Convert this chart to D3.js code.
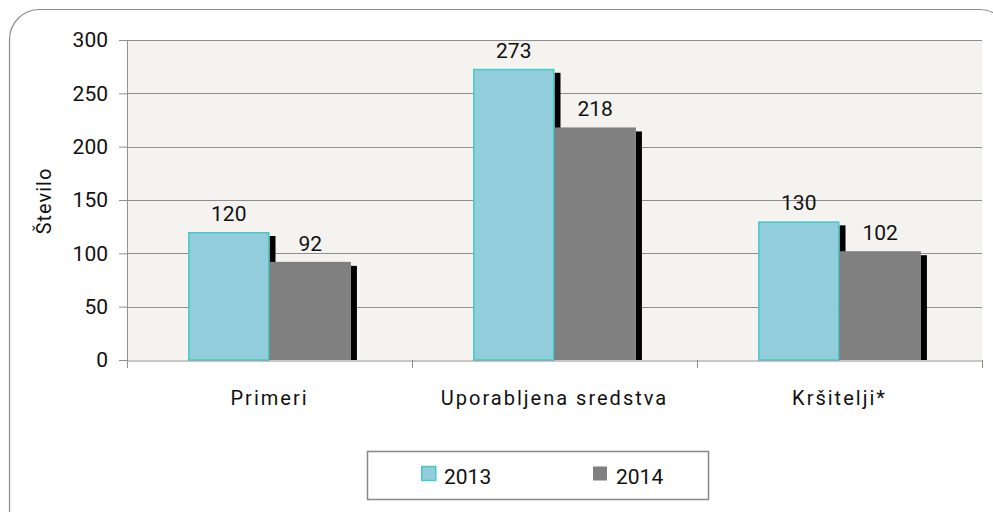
<!DOCTYPE html>
<html>
<head>
<meta charset="utf-8">
<script src="https://cdn.jsdelivr.net/npm/d3@7"></script>
<style>
  body { margin: 0; background: #fff; }
  text { font-family: Roboto, "Noto Sans", sans-serif; fill: #111; }
</style>
</head>
<body>
<div id="chart"></div>
<script>
// chart data
const categories = ["Primeri", "Uporabljena sredstva", "Kršitelji*"];
const years = ["2013", "2014"];
const values2013 = [120, 273, 130];
const values2014 = [92, 218, 102];
const yTicks = [0, 50, 100, 150, 200, 250, 300];

const width = 993;
const height = 512;
const margin = ({top: 40, right: 11, bottom: 152, left: 127});

const fills = {"2013": "#92cddc", "2014": "#808080"};
const strokes = {"2013": "#45c9c9", "2014": "none"};

const rows = categories.map((c, i) => ({cat: c, "2013": values2013[i], "2014": values2014[i]}));

const svg = d3.select("#chart").append("svg")
    .attr("width", width).attr("height", height);

// outer rounded frame
svg.append("rect")
    .attr("x", 9.5).attr("y", 9.5)
    .attr("width", 1000).attr("height", 540)
    .attr("rx", 30).attr("ry", 30)
    .attr("fill", "#fff").attr("stroke", "#8c8c8c").attr("stroke-width", 1.2);

let x = d3.scaleBand()
    .domain(categories)
    .range([margin.left, width - margin.right])
    .paddingInner(0).paddingOuter(0);
let xInner = d3.scaleBand()
    .domain(years)
    .range([0, x.bandwidth()])
    .paddingOuter(0.75).paddingInner(0);
let y = d3.scaleLinear()
    .domain([0, 300])
    .range([height - margin.bottom, margin.top]);

// plot area background
svg.append("rect")
    .attr("x", margin.left).attr("y", margin.top)
    .attr("width", width - margin.right - margin.left)
    .attr("height", y(0) - margin.top)
    .attr("fill", "#f4f3ef");

// grid lines
svg.append("g")
    .selectAll("line").data(yTicks.filter(d => d > 0)).join("line")
    .attr("x1", margin.left).attr("x2", width - margin.right)
    .attr("y1", d => Math.round(y(d)) + 0.5).attr("y2", d => Math.round(y(d)) + 0.5)
    .attr("stroke", "#8e8e8e").attr("stroke-width", 1);

// bars with shadow
const groups = svg.append("g").selectAll("g").data(rows).join("g")
    .attr("transform", d => `translate(${x(d.cat)},0)`);

years.forEach(yr => {
  groups.append("rect")
      .attr("x", xInner(yr) + xInner.bandwidth())
      .attr("y", d => y(d[yr]) + 4)
      .attr("width", 6)
      .attr("height", d => y(0) - y(d[yr]) - 4)
      .attr("fill", "#000");
});
years.forEach(yr => {
  groups.append("rect")
      .attr("x", xInner(yr) + (yr === "2013" ? 0.75 : 0))
      .attr("y", d => y(d[yr]) + (yr === "2013" ? 0.75 : 0))
      .attr("width", xInner.bandwidth() - (yr === "2013" ? 1.5 : 0))
      .attr("height", d => y(0) - y(d[yr]) - (yr === "2013" ? 0.75 : 0))
      .attr("fill", fills[yr])
      .attr("stroke", strokes[yr]).attr("stroke-width", 1.5);
  groups.append("text")
      .attr("x", xInner(yr) + xInner.bandwidth() / 2)
      .attr("y", d => y(d[yr]) - 11)
      .attr("text-anchor", "middle")
      .style("font-size", "21px")
      .text(d => d[yr]);
});

// axes
const yAxis = g => g
    .attr("transform", `translate(${margin.left},0)`)
    .call(d3.axisLeft(y).tickValues(yTicks).tickSize(8).tickPadding(11))
    .call(g => g.select(".domain").remove());
const gy = svg.append("g").call(yAxis);
gy.selectAll("line").attr("stroke", "#8e8e8e");
gy.selectAll("text").style("font-size", "21px").attr("fill", "#111");

svg.append("line")
    .attr("x1", margin.left + 0.5).attr("x2", margin.left + 0.5)
    .attr("y1", margin.top).attr("y2", y(0) + 8)
    .attr("stroke", "#8e8e8e");

const xAxis = g => g
    .attr("transform", `translate(0,${Math.round(y(0)) + 0.5})`)
    .call(d3.axisBottom(x).tickSize(0).tickPadding(30))
    .call(g => g.select(".domain").attr("stroke", "#8e8e8e"));
const gx = svg.append("g").call(xAxis);
gx.selectAll("text").style("font-size", "20px").style("letter-spacing", "2px").attr("fill", "#111");

// x ticks between categories
svg.append("g").selectAll("line")
    .data(categories.slice(1).map(c => x(c)).concat([width - margin.right]))
    .join("line")
    .attr("x1", d => Math.round(d) + 0.5).attr("x2", d => Math.round(d) + 0.5)
    .attr("y1", y(0)).attr("y2", y(0) + 8)
    .attr("stroke", "#8e8e8e");

// y label
svg.append("text")
    .attr("transform", "rotate(-90)")
    .attr("x", -201).attr("y", 51)
    .attr("text-anchor", "middle")
    .style("font-size", "20px")
    .style("letter-spacing", "1px")
    .text("Število");

// legend
const legend = svg.append("g").attr("transform", "translate(367,451)");
legend.append("rect")
    .attr("x", 0.5).attr("y", 0.5).attr("width", 341).attr("height", 48)
    .attr("fill", "#fff").attr("stroke", "#888").attr("stroke-width", 1.5);
const lx = [54, 226];
years.forEach((yr, i) => {
  legend.append("rect")
      .attr("x", lx[i] + (yr === "2013" ? 0.75 : 0)).attr("y", 15.5)
      .attr("width", 14).attr("height", 14)
      .attr("fill", fills[yr]).attr("stroke", strokes[yr]).attr("stroke-width", 1.5);
  legend.append("text")
      .attr("x", lx[i] + 23).attr("y", 33)
      .style("font-size", "21px")
      .text(yr);
});
</script>
</body>
</html>
